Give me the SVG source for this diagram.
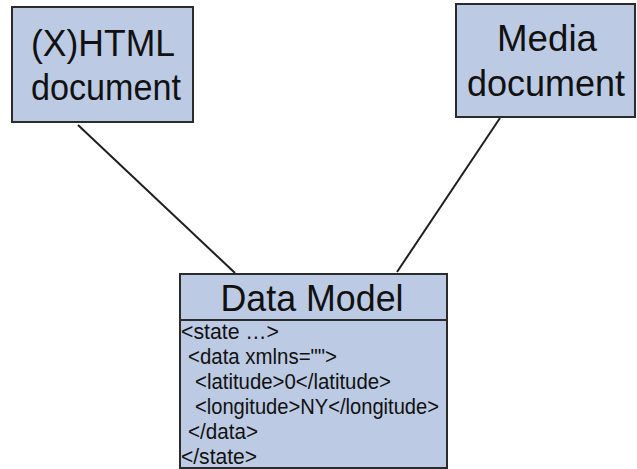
<svg xmlns="http://www.w3.org/2000/svg" width="637" height="469" viewBox="0 0 637 469">
<style>
.box{fill:#bccbe3;stroke:#2b2b2b;stroke-width:2}
.big{font-family:"Liberation Sans",Arial,sans-serif;font-size:37px;fill:#111;text-anchor:middle}
.code{font-family:"Liberation Sans",Arial,sans-serif;font-size:22px;fill:#111}
.conn{stroke:#1e1e1e;stroke-width:2;fill:none}
</style>
<rect width="637" height="469" fill="#ffffff"/>
<g id="connectors">
<line class="conn" x1="78" y1="125" x2="235" y2="273"/>
<line class="conn" x1="500" y1="118" x2="397" y2="272"/>
</g>
<g id="html-doc">
<rect class="box" x="12" y="7" width="181" height="115"/>
<text class="big" x="103" y="56" textLength="144" lengthAdjust="spacingAndGlyphs">(X)HTML</text>
<text class="big" x="106" y="100" textLength="150" lengthAdjust="spacingAndGlyphs">document</text>
</g>
<g id="media-doc">
<rect class="box" x="456" y="4" width="179" height="113"/>
<text class="big" x="547" y="51" textLength="100" lengthAdjust="spacingAndGlyphs">Media</text>
<text class="big" x="546" y="96" textLength="158" lengthAdjust="spacingAndGlyphs">document</text>
</g>
<g id="data-model">
<rect class="box" x="180" y="274" width="267" height="194"/>
<line x1="180" y1="320" x2="447" y2="320" stroke="#2b2b2b" stroke-width="2"/>
<text class="big" x="312" y="311" textLength="183" lengthAdjust="spacingAndGlyphs">Data Model</text>
<text class="code" x="181" y="339" textLength="98" lengthAdjust="spacingAndGlyphs">&lt;state …&gt;</text>
<text class="code" x="188" y="364" textLength="149" lengthAdjust="spacingAndGlyphs">&lt;data xmlns=""&gt;</text>
<text class="code" x="195" y="389" textLength="196" lengthAdjust="spacingAndGlyphs">&lt;latitude&gt;0&lt;/latitude&gt;</text>
<text class="code" x="195" y="414" textLength="244" lengthAdjust="spacingAndGlyphs">&lt;longitude&gt;NY&lt;/longitude&gt;</text>
<text class="code" x="188" y="439" textLength="70" lengthAdjust="spacingAndGlyphs">&lt;/data&gt;</text>
<text class="code" x="181" y="464" textLength="76" lengthAdjust="spacingAndGlyphs">&lt;/state&gt;</text>
</g>
</svg>
